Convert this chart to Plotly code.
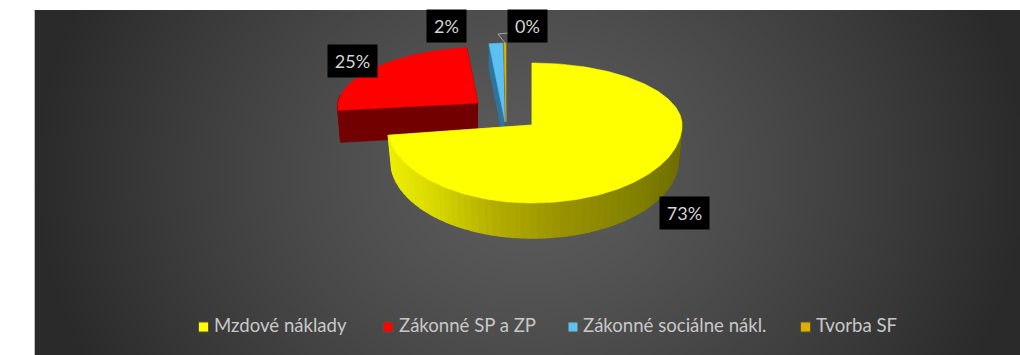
import math
import numpy as np
import plotly.graph_objects as go

# ---- data ----
categories = ["Mzdové náklady", "Zákonné SP a ZP", "Zákonné sociálne nákl.", "Tvorba SF"]
values = [72.9, 24.8, 2.0, 0.3]
pct_labels = ["73%", "25%", "2%", "0%"]

# ---- styles / layout constants ----
W, H = 1020, 355
PANEL = (35, 10, 1020, 355)
top_colors = ["#ffff00", "#ff0000", "#5cc0f0", "#e0b000"]
side_stops = [
    [(385, (240, 240, 0)), (430, (218, 218, 0)), (490, (182, 176, 0)), (560, (155, 148, 0)), (640, (130, 128, 0)), (690, (108, 108, 0))],
    [(330, (120, 0, 0)), (480, (112, 0, 0))],
    [(480, (48, 128, 170)), (510, (40, 110, 150))],
    [(480, (90, 90, 85)), (510, (90, 90, 85))],
]
# cx, cy, a_right, a_left, b_back, b_front, skew, depth, bottom shrink
geom = [
    (532, 125, 150, 145, 62, 78, 0.0, 35, 0.975),
    (478, 103, 140, 140, 56, 56, 0.16, 32, 0.98),
    (505, 122, 111, 111, 79, 79, 0.0, 25, 1.0),
    (506, 122, 111, 111, 79, 79, 0.0, 25, 1.0),
]
label_boxes = [(684.5, 213, 49), (352.5, 61, 49), (446.5, 26, 39), (527.5, 26, 39)]
legend_marks = [203.5, 388, 573, 805.5]
legend_text = [214, 399, 583, 816]
LEG_Y = 327

fig = go.Figure()

# background gradient panel (cell centres, so that the cell edges meet the panel edges)
NX, NY = 120, 50
gx = PANEL[0] + (np.arange(NX) + 0.5) * (PANEL[2] - PANEL[0]) / NX
gy = PANEL[1] + (np.arange(NY) + 0.5) * (PANEL[3] - PANEL[1]) / NY
X, Y = np.meshgrid(gx, gy)
R = np.sqrt(((X - 530) / 495) ** 2 + ((Y - 175) / 420) ** 2)
Z = 0x5c - (0x5c - 0x2a) * np.clip(R, 0, 1) ** 1.3
fig.add_trace(go.Heatmap(x=gx, y=gy, z=Z, zmin=0, zmax=255, zsmooth="best", showscale=False, hoverinfo="skip",
                         colorscale=[[0, "rgb(0,0,0)"], [1, "rgb(255,255,255)"]]))
fig.add_trace(go.Scatter(x=[34.5, 34.5], y=[PANEL[1], PANEL[3]], mode="lines", line=dict(color="#bdbdbd", width=1),
                         hoverinfo="skip", showlegend=False))


def poly(xs, ys, color, name=None, lw=0.6):
    fig.add_trace(go.Scatter(x=xs, y=ys, mode="lines", fill="toself", fillcolor=color,
                             line=dict(color=color, width=lw), hoverinfo="skip" if name is None else "text",
                             text=name, showlegend=False))


def pt(g, deg):
    cx, cy, ar, al, bb, bf, s, d, k = g
    t = math.radians(deg)
    c, sn = math.cos(t), math.sin(t)
    b = bb if c >= 0 else bf
    a = ar if sn >= 0 else al
    return cx + a * sn + s * b * c, cy - b * c


def side_color(stops, x):
    xs = [p[0] for p in stops]
    rgb = [int(np.interp(x, xs, [p[1][i] for p in stops])) for i in range(3)]
    return "rgb(%d,%d,%d)" % tuple(rgb)


# slice angles from values
total = sum(values)
ang = [0.0]
for v in values:
    ang.append(ang[-1] + v / total * 360)

tip = {}
for i in [1, 2, 3, 0]:
    g = geom[i]
    d, k = g[7], g[8]
    a0, a1 = ang[i], ang[i + 1]
    cx, cy = g[0], g[1]
    stops = side_stops[i]
    # cut faces
    for e in (a0, a1):
        x, y = pt(g, e)
        poly([cx, x, cx + (x - cx) * k, cx], [cy, y, y + d, cy + d], side_color(stops, (x + cx) / 2))
    # outer wall, only the part facing the viewer needs strips
    n = max(2, int((a1 - a0) / 3))
    th = np.linspace(a0, a1, n + 1)
    for p, q in zip(th[:-1], th[1:]):
        if math.cos(math.radians((p + q) / 2)) > 0.15:
            continue
        x0, y0 = pt(g, p)
        x1, y1 = pt(g, q)
        poly([x0, x1, cx + (x1 - cx) * k, cx + (x0 - cx) * k], [y0, y1, y1 + d, y0 + d],
             side_color(stops, (x0 + x1) / 2), lw=1.5)
    # top face
    arc = [pt(g, t) for t in np.linspace(a0, a1, max(3, int(a1 - a0) + 2))]
    poly([cx] + [p[0] for p in arc] + [cx], [cy] + [p[1] for p in arc] + [cy], top_colors[i], categories[i])
    tip[i] = pt(g, (a0 + a1) / 2)

# leader line for the smallest slice
lx, ly, lw = label_boxes[3]
fig.add_trace(go.Scatter(x=[lx - lw / 2, lx - lw / 2 - 10, tip[3][0]], y=[ly + 7, ly + 8, tip[3][1]], mode="lines",
                         line=dict(color="#a6a6a6", width=1), hoverinfo="skip", showlegend=False))

# data labels
for lab, (x, y, w) in zip(pct_labels, label_boxes):
    fig.add_annotation(x=x, y=y, text=lab, showarrow=False, width=w, height=32, bgcolor="#000000", borderpad=0,
                       align="center", valign="middle", font=dict(family="Lato", size=18, color="#d4d4d4"))

# legend
for c, lab, mx, tx in zip(top_colors, categories, legend_marks, legend_text):
    fig.add_trace(go.Scatter(x=[mx], y=[LEG_Y], mode="markers", hoverinfo="skip", showlegend=False,
                             marker=dict(symbol="square", size=10, color=c, line=dict(color="#555533", width=1))))
    fig.add_trace(go.Scatter(x=[tx], y=[LEG_Y], mode="text", text=[lab], textposition="middle right", hoverinfo="skip",
                             showlegend=False, textfont=dict(family="Lato", size=18.6, color="#c8c8c8")))

fig.update_layout(width=W, height=H, margin=dict(l=0, r=0, t=0, b=0), paper_bgcolor="#ffffff", plot_bgcolor="#ffffff",
                  showlegend=False,
                  xaxis=dict(range=[0, W], visible=False, fixedrange=True),
                  yaxis=dict(range=[H, 0], visible=False, fixedrange=True))
fig.write_html("out.html", config=dict(displayModeBar=False),
               post_script="document.body.style.margin='0';document.documentElement.style.overflow='hidden';")
